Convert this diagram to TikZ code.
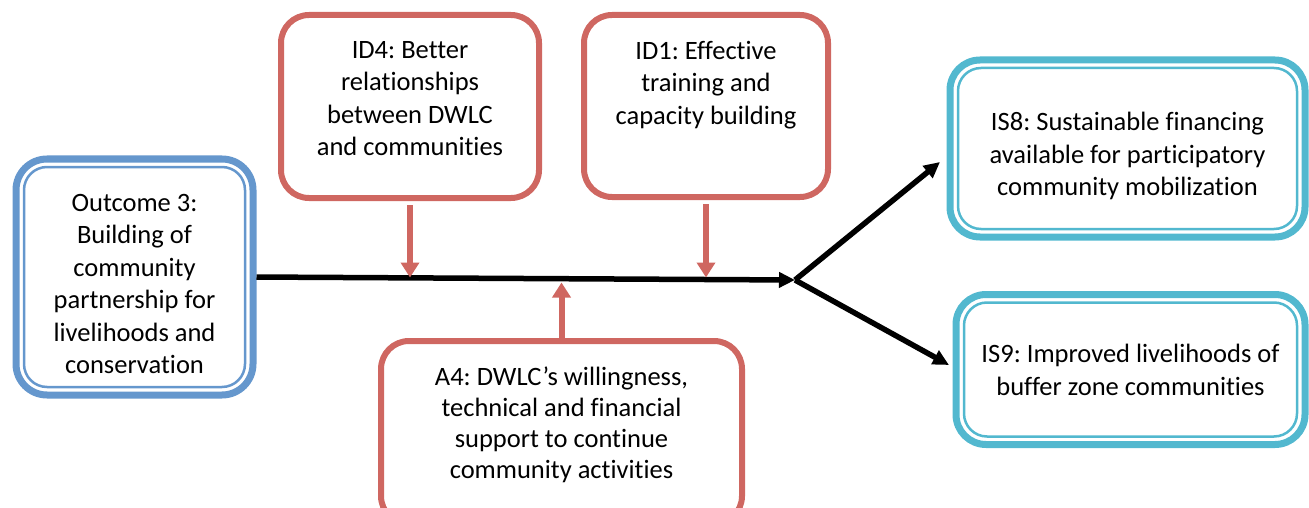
\documentclass[tikz,border=0pt]{standalone}
\usepackage{fontspec}
\setmainfont{Carlito}[Ligatures=NoCommon]
\frenchspacing
\usetikzlibrary{arrows.meta}
\definecolor{boxred}{RGB}{207,103,97}
\definecolor{boxblue}{RGB}{101,151,205}
\definecolor{boxcyan}{RGB}{82,184,207}
\tikzset{
  box/.style={rounded corners=28pt, line width=6pt, inner sep=0pt, outer sep=0pt,
    font=\fontsize{26.5pt}{32.5pt}\selectfont, align=center},
  redbox/.style={box, draw=boxred},
  bluebox/.style={box, draw=boxblue, line width=7pt, rounded corners=31pt},
  cyanbox/.style={box, draw=boxcyan, line width=7pt, rounded corners=30pt},
  flow/.style={line width=5.5pt, -{Triangle[length=16pt,width=15pt]}},
  feed/.style={boxred, line width=6pt, -{Triangle[length=15pt,width=18pt]}, shorten >=2.5pt}
}
\begin{document}
\begin{tikzpicture}[x=1pt,y=-1pt]
    \useasboundingbox (0,0) rectangle (1309,508);
    \clip (0,0) rectangle (1309,508);
    % outcome and results
    \node[bluebox, minimum width=237pt, minimum height=236pt] (out) at (134.5,277)
        {\parbox[c][194pt][b]{229pt}{\centering Outcome 3:\\ Building of\\ community\\ partnership for\\ livelihoods and\\ conservation}};
    \node[cyanbox, minimum width=355pt, minimum height=177pt] (is8) at (1127.5,148.5)
        {\parbox[c][99pt][b]{340pt}{\centering IS8: Sustainable financing\\ available for participatory\\ community mobilization}};
    \node[cyanbox, minimum width=349pt, minimum height=150pt] (is9) at (1130.5,369.5)
        {\parbox[c][52pt][b]{340pt}{\centering IS9: Improved livelihoods of\\ buffer zone communities}};
    \foreach \n/\c in {out/boxblue, is8/boxcyan, is9/boxcyan}
        \draw[\c, line width=2.5pt, rounded corners=23pt]
            ([shift={(8,8)}]\n.north west) rectangle ([shift={(-8,-8)}]\n.south east);
    % drivers and assumption
    \node[redbox, minimum width=258pt, minimum height=183pt] (id4) at (410,106.5)
        {\parbox[c][131pt][t]{250pt}{\centering ID4: Better\\ relationships\\ between DWLC\\ and communities}};
    \node[redbox, minimum width=244pt, minimum height=182pt] (id1) at (706,106)
        {\parbox[c][130pt][t]{236pt}{\centering ID1: Effective\\ training and\\ capacity building}};
    \node[redbox, minimum width=361pt, minimum height=183pt] (a4) at (561.5,432.5)
        {\parbox[c][131pt][t]{350pt}{\centering\baselineskip=31pt A4: DWLC’s willingness,\\ technical and financial\\ support to continue\\ community activities}};
    % arrows
    \coordinate (hub) at (795,280);
    \draw[flow, shorten <=3.5pt] (out.east) -- (hub);
    \draw[flow] (hub) -- ([shift={(-10,13.5)}]is8.west);
    \draw[flow] (hub) -- ([shift={(-7,-4.5)}]is9.west);
    \draw[feed, shorten <=7pt] (id4.south) -- (id4.south |- hub);
    \draw[feed, shorten <=7pt] (id1.south) -- (id1.south |- hub);
    \draw[feed] (a4.north) -- (a4.north |- hub);
\end{tikzpicture}
\end{document}
